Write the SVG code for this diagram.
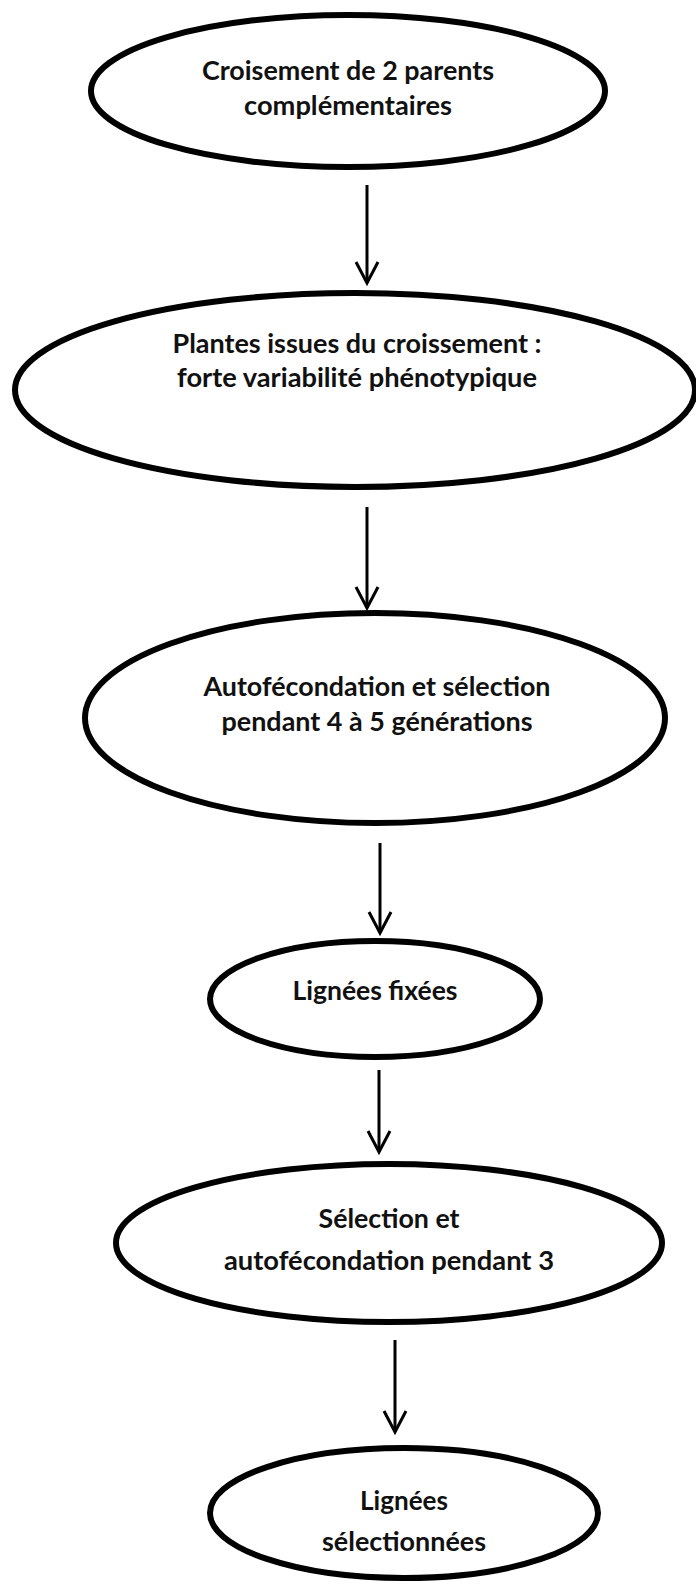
<svg xmlns="http://www.w3.org/2000/svg" width="696" height="1584" viewBox="0 0 696 1584">
<defs>
<style>
.node ellipse{fill:#fff;stroke:#000;stroke-width:6}
.node text{font-family:Lato,"Liberation Sans",sans-serif;font-weight:700;font-size:27px;fill:#111;text-anchor:middle}
.conn line{stroke:#000;stroke-width:3;marker-end:url(#arr)}
</style>
<marker id="arr" markerUnits="userSpaceOnUse" markerWidth="26" markerHeight="26" refX="21" refY="11" orient="auto" overflow="visible">
<path d="M0,0 L21,11 L0,22" fill="none" stroke="#000" stroke-width="3"/>
</marker>
</defs>
<rect width="696" height="1584" fill="#fff"/>
<g id="connectors" class="conn">
<line x1="367" y1="185" x2="367" y2="283"/>
<line x1="367" y1="507" x2="367" y2="608"/>
<line x1="380" y1="843" x2="380" y2="933"/>
<line x1="379" y1="1070" x2="379" y2="1152"/>
<line x1="395" y1="1340" x2="395" y2="1432"/>
</g>
<g id="n1" class="node">
<ellipse cx="348" cy="91" rx="257" ry="76"/>
<text x="348" y="80" textLength="292" lengthAdjust="spacingAndGlyphs">Croisement de 2 parents</text>
<text x="348" y="115" textLength="208" lengthAdjust="spacingAndGlyphs">complémentaires</text>
</g>
<g id="n2" class="node">
<ellipse cx="355" cy="390" rx="340" ry="97"/>
<text x="357" y="353" textLength="369" lengthAdjust="spacingAndGlyphs">Plantes issues du croissement :</text>
<text x="357" y="387" textLength="360" lengthAdjust="spacingAndGlyphs">forte variabilité phénotypique</text>
</g>
<g id="n3" class="node">
<ellipse cx="375" cy="718" rx="290" ry="105"/>
<text x="377" y="696" textLength="347" lengthAdjust="spacingAndGlyphs">Autofécondation et sélection</text>
<text x="377" y="731" textLength="311" lengthAdjust="spacingAndGlyphs">pendant 4 à 5 générations</text>
</g>
<g id="n4" class="node">
<ellipse cx="375" cy="999" rx="165" ry="58"/>
<text x="375" y="1000" textLength="165" lengthAdjust="spacingAndGlyphs">Lignées fixées</text>
</g>
<g id="n5" class="node">
<ellipse cx="389" cy="1243" rx="273" ry="79"/>
<text x="389" y="1228" textLength="141" lengthAdjust="spacingAndGlyphs">Sélection et</text>
<text x="389" y="1270" textLength="330" lengthAdjust="spacingAndGlyphs">autofécondation pendant 3</text>
</g>
<g id="n6" class="node">
<ellipse cx="404" cy="1513" rx="194" ry="65"/>
<text x="404" y="1510" textLength="88" lengthAdjust="spacingAndGlyphs">Lignées</text>
<text x="404" y="1551" textLength="164" lengthAdjust="spacingAndGlyphs">sélectionnées</text>
</g>
</svg>
